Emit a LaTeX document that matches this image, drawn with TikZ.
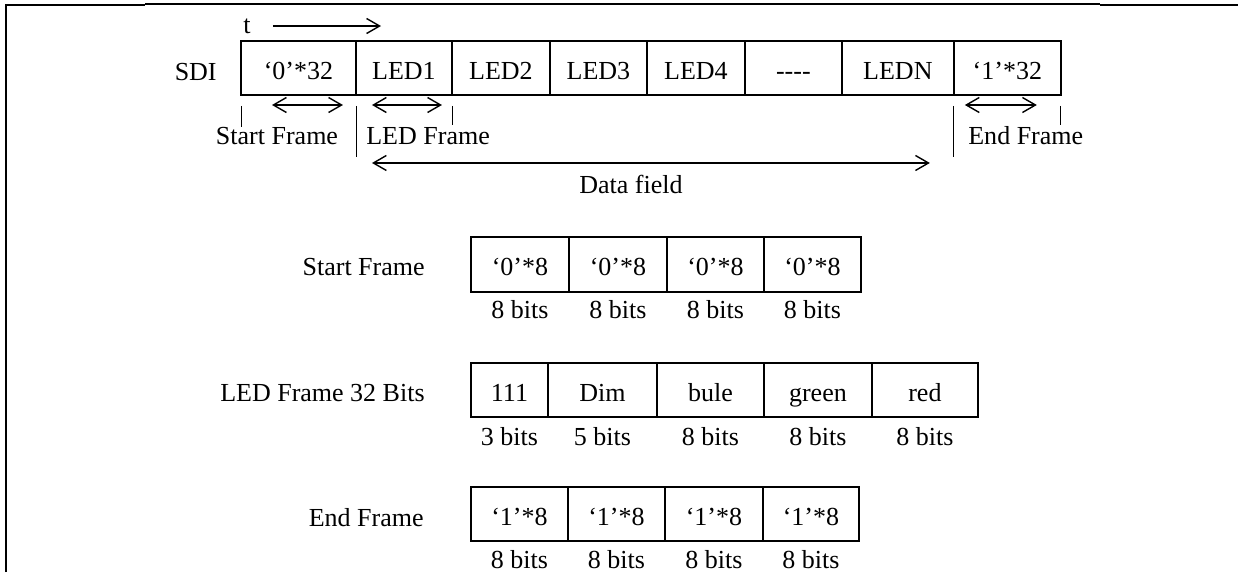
\documentclass[tikz,border=0pt]{standalone}
\usepackage{fontspec}
\setmainfont{Liberation Serif}
\usetikzlibrary{arrows.meta,positioning}
\tikzset{cell/.style={draw,line width=1.1pt,inner sep=0pt,outer sep=0pt,
  minimum height=1.08cm,text height=16pt,text depth=3pt},
  lbl/.style={inner sep=0pt},
  arrow/.style={-{Straight Barb[length=2.6mm,width=3mm]},line width=0.8pt},
  twoway/.style={{Straight Barb[length=2.6mm,width=3mm]}-{Straight Barb[length=2.6mm,width=3mm]},line width=0.8pt},
  tick/.style={line width=0.5pt},
  frameline/.style={line width=1.6pt}}

\begin{document}
\begin{tikzpicture}[x=0.02cm,y=-0.02cm,font=\fontsize{14.8}{17}\selectfont]
\useasboundingbox (0,0) rectangle (1238,572);
% page frame
\draw[frameline] (6,572) -- (6,5) -- (145,5);
\draw[line width=0.6pt] (145,4) -- (1100,4);
\draw[frameline] (1100,5) -- (1238,5);

% SDI stream
\node[cell,minimum width=2.3cm,anchor=west] (sf) at (241,68) {‘0’*32};
\node[cell,minimum width=1.92cm,right=0pt of sf] (led1) {LED1};
\node[cell,minimum width=1.96cm,right=0pt of led1] (led2) {LED2};
\node[cell,minimum width=1.94cm,right=0pt of led2] (led3) {LED3};
\node[cell,minimum width=1.96cm,right=0pt of led3] (led4) {LED4};
\node[cell,minimum width=1.94cm,right=0pt of led4] (dots) {-{}-{}-{}-};
\node[cell,minimum width=2.24cm,right=0pt of dots] (ledn) {LEDN};
\node[cell,minimum width=2.14cm,right=0pt of ledn] (ef) {‘1’*32};
\node[lbl,left=4.8mm of sf,yshift=-0.8mm] (sdi) {SDI};

\node[lbl] (t) at (247,26) {t};
\coordinate (tend) at (381,26);
\draw[arrow] ([xshift=4.4mm]t.east) -- (tend);

\draw[twoway] ([xshift=6.2mm,yshift=-2mm]sf.south west) -- ([xshift=-2.6mm,yshift=-2mm]sf.south east);
\draw[twoway] ([xshift=3.2mm,yshift=-2mm]led1.south west) -- ([xshift=-2mm,yshift=-2mm]led1.south east);
\draw[twoway] ([xshift=2.2mm,yshift=-2mm]ef.south west) -- ([xshift=-4.8mm,yshift=-2mm]ef.south east);
\draw[twoway] ([xshift=3.2mm,yshift=-13.6mm]led1.south west) -- ([xshift=-4.8mm,yshift=-13.6mm]ledn.south east);

\draw[tick] ([yshift=-2.2mm]sf.south west) -- ++(0,21);
\draw[tick] ([yshift=-2.2mm]led1.south west) -- ++(0,51);
\draw[tick] ([yshift=-2.2mm]led1.south east) -- ++(0,19);
\draw[tick] ([yshift=-2.2mm]ef.south west) -- ++(0,51);
\draw[tick] ([yshift=-2.2mm]ef.south east) -- ++(0,19);

\node[lbl] (sfname) at (277,136) {Start Frame};
\node[lbl,anchor=west] (lfname) at (366,136) {LED Frame};
\node[lbl,anchor=west] (efname) at (968,136) {End Frame};
\node[lbl] (datafield) at (631,184) {Data field};

% start frame
\node[lbl,anchor=east] (startlbl) at (425,267) {Start Frame};
\node[cell,minimum width=1.96cm,minimum height=1.1cm,anchor=west] (s1) at (471,264.5) {‘0’*8};
\node[cell,minimum width=1.96cm,minimum height=1.1cm,right=0pt of s1] (s2) {‘0’*8};
\node[cell,minimum width=1.94cm,minimum height=1.1cm,right=0pt of s2] (s3) {‘0’*8};
\node[cell,minimum width=1.94cm,minimum height=1.1cm,right=0pt of s3] (s4) {‘0’*8};
\node[lbl,below=1.6mm of s1] (s1b) {8 bits};
\node[lbl,below=1.6mm of s2] (s2b) {8 bits};
\node[lbl,below=1.6mm of s3] (s3b) {8 bits};
\node[lbl,below=1.6mm of s4] (s4b) {8 bits};

% LED frame
\node[lbl,anchor=east] (ledlbl) at (425,393) {LED Frame 32 Bits};
\node[cell,minimum width=1.54cm,anchor=west] (l1) at (471,390) {111};
\node[cell,minimum width=2.18cm,right=0pt of l1] (l2) {Dim};
\node[cell,minimum width=2.14cm,right=0pt of l2] (l3) {bule};
\node[cell,minimum width=2.16cm,right=0pt of l3] (l4) {green};
\node[cell,minimum width=2.12cm,right=0pt of l4] (l5) {red};
\node[lbl,below=2mm of l1] (l1b) {3 bits};
\node[lbl,below=2mm of l2] (l2b) {5 bits};
\node[lbl,below=2mm of l3] (l3b) {8 bits};
\node[lbl,below=2mm of l4] (l4b) {8 bits};
\node[lbl,below=2mm of l5] (l5b) {8 bits};

% end frame
\node[lbl,anchor=east] (endlbl) at (424,518) {End Frame};
\node[cell,minimum width=1.94cm,anchor=west] (e1) at (471,514) {‘1’*8};
\node[cell,minimum width=1.94cm,right=0pt of e1] (e2) {‘1’*8};
\node[cell,minimum width=1.96cm,right=0pt of e2] (e3) {‘1’*8};
\node[cell,minimum width=1.92cm,right=0pt of e3] (e4) {‘1’*8};
\node[lbl,below=1.8mm of e1] (e1b) {8 bits};
\node[lbl,below=1.8mm of e2] (e2b) {8 bits};
\node[lbl,below=1.8mm of e3] (e3b) {8 bits};
\node[lbl,below=1.8mm of e4] (e4b) {8 bits};
\end{tikzpicture}
\end{document}
